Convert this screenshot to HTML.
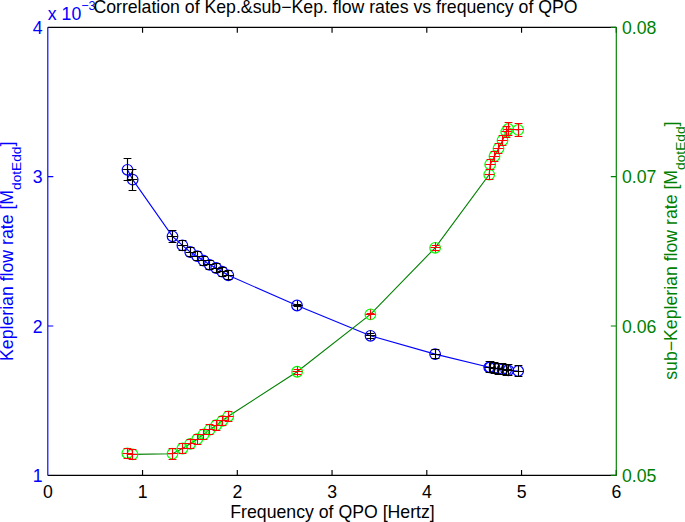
<!DOCTYPE html>
<html><head><meta charset="utf-8"><style>
html,body{margin:0;padding:0;background:#fff;}
svg{display:block;}
text{font-family:"Liberation Sans",sans-serif;font-size:17.7px;}
</style></head><body>
<svg width="685" height="522" viewBox="0 0 685 522">
<rect width="685" height="522" fill="#fff"/>
<polyline points="127.5,169.8 132.7,179.6 172.5,236.3 182.4,245.4 190.2,252 197.2,256.2 203.6,260.6 209.7,264.8 216.2,268 222.3,271.7 228.3,275.3 297,305.5 370.5,335.8 435.1,354.1 489.2,367.3 490.2,367.4 494.5,368 498.5,368.6 502.5,369.2 506.2,369.9 508.3,370.3 518.2,371" stroke="#0000ff" stroke-width="1.1" fill="none"/>
<circle cx="127.5" cy="169.8" r="5.3" stroke="#0000ff" stroke-width="1.2" fill="none"/>
<circle cx="132.7" cy="179.6" r="5.3" stroke="#0000ff" stroke-width="1.2" fill="none"/>
<circle cx="172.5" cy="236.3" r="5.3" stroke="#0000ff" stroke-width="1.2" fill="none"/>
<circle cx="182.4" cy="245.4" r="5.3" stroke="#0000ff" stroke-width="1.2" fill="none"/>
<circle cx="190.2" cy="252" r="5.3" stroke="#0000ff" stroke-width="1.2" fill="none"/>
<circle cx="197.2" cy="256.2" r="5.3" stroke="#0000ff" stroke-width="1.2" fill="none"/>
<circle cx="203.6" cy="260.6" r="5.3" stroke="#0000ff" stroke-width="1.2" fill="none"/>
<circle cx="209.7" cy="264.8" r="5.3" stroke="#0000ff" stroke-width="1.2" fill="none"/>
<circle cx="216.2" cy="268" r="5.3" stroke="#0000ff" stroke-width="1.2" fill="none"/>
<circle cx="222.3" cy="271.7" r="5.3" stroke="#0000ff" stroke-width="1.2" fill="none"/>
<circle cx="228.3" cy="275.3" r="5.3" stroke="#0000ff" stroke-width="1.2" fill="none"/>
<circle cx="297" cy="305.5" r="5.3" stroke="#0000ff" stroke-width="1.2" fill="none"/>
<circle cx="370.5" cy="335.8" r="5.3" stroke="#0000ff" stroke-width="1.2" fill="none"/>
<circle cx="435.1" cy="354.1" r="5.3" stroke="#0000ff" stroke-width="1.2" fill="none"/>
<circle cx="489.2" cy="367.3" r="5.3" stroke="#0000ff" stroke-width="1.2" fill="none"/>
<circle cx="490.2" cy="367.4" r="5.3" stroke="#0000ff" stroke-width="1.2" fill="none"/>
<circle cx="494.5" cy="368" r="5.3" stroke="#0000ff" stroke-width="1.2" fill="none"/>
<circle cx="498.5" cy="368.6" r="5.3" stroke="#0000ff" stroke-width="1.2" fill="none"/>
<circle cx="502.5" cy="369.2" r="5.3" stroke="#0000ff" stroke-width="1.2" fill="none"/>
<circle cx="506.2" cy="369.9" r="5.3" stroke="#0000ff" stroke-width="1.2" fill="none"/>
<circle cx="508.3" cy="370.3" r="5.3" stroke="#0000ff" stroke-width="1.2" fill="none"/>
<circle cx="518.2" cy="371" r="5.3" stroke="#0000ff" stroke-width="1.2" fill="none"/>
<path d="M127.5 158.5V180.5M123.6 158.5H131.4M123.6 180.5H131.4M122.5 169.5H132.5M132.5 169.5V190.5M128.6 169.5H136.4M128.6 190.5H136.4M127.5 179.5H137.5M172.5 230.5V242.5M168.6 230.5H176.4M168.6 242.5H176.4M167.5 236.5H177.5M182.5 240.5V250.5M178.6 240.5H186.4M178.6 250.5H186.4M177.5 245.5H187.5M190.5 247.5V257.5M186.6 247.5H194.4M186.6 256.5H194.4M185.5 252.5H195.5M197.5 251.5V261.5M193.6 251.5H201.4M193.6 260.5H201.4M192.5 256.5H202.5M203.5 255.5V265.5M199.6 256.5H207.4M199.6 265.5H207.4M198.5 260.5H208.5M209.5 259.5V269.5M205.6 260.5H213.4M205.6 269.5H213.4M204.5 264.5H214.5M216.5 263.5V273.5M212.6 263.5H220.4M212.6 272.5H220.4M211.5 268.5H221.5M222.5 266.5V276.5M218.6 267.5H226.4M218.6 276.5H226.4M217.5 271.5H227.5M228.5 270.5V280.5M224.6 270.5H232.4M224.6 279.5H232.4M223.5 275.5H233.5M297.5 300.5V310.5M293.6 304.5H301.4M293.6 306.5H301.4M292.5 305.5H302.5M370.5 330.5V340.5M366.6 333.5H374.4M366.6 338.5H374.4M365.5 335.5H375.5M435.5 349.5V359.5M431.6 349.5H439.4M431.6 358.5H439.4M430.5 354.5H440.5M489.5 361.5V372.5M485.6 361.5H493.4M485.6 372.5H493.4M484.5 367.5H494.5M490.5 361.5V372.5M486.6 361.5H494.4M486.6 372.5H494.4M485.5 367.5H495.5M494.5 362.5V373.5M490.6 362.5H498.4M490.6 373.5H498.4M489.5 368.5H499.5M498.5 363.5V374.5M494.6 363.5H502.4M494.6 374.5H502.4M493.5 368.5H503.5M502.5 363.5V374.5M498.6 363.5H506.4M498.6 374.5H506.4M497.5 369.5H507.5M506.5 364.5V375.5M502.6 364.5H510.4M502.6 375.5H510.4M501.5 369.5H511.5M508.5 364.5V375.5M504.6 364.5H512.4M504.6 375.5H512.4M503.5 370.5H513.5M518.5 365.5V376.5M514.6 365.5H522.4M514.6 376.5H522.4M513.5 371.5H523.5" stroke="#000" stroke-width="1.15" fill="none"/>
<polyline points="127.3,453.3 132.5,454.4 172.5,453.7 182.4,448.5 190.2,443.8 197.2,439.2 203.6,434.4 209.7,429.6 216.2,425.2 222.3,420.8 228.3,416.3 297.1,371.75 370.4,314.4 435.1,247.8 489.2,174.6 490.2,164.4 494.5,156.2 498.5,148.4 502.5,140.4 506.2,131.8 508.3,129 518.2,129.9" stroke="#008000" stroke-width="1.1" fill="none"/>
<circle cx="127.3" cy="453.3" r="5.3" stroke="#00ff00" stroke-width="1.2" fill="none"/>
<circle cx="132.5" cy="454.4" r="5.3" stroke="#00ff00" stroke-width="1.2" fill="none"/>
<circle cx="172.5" cy="453.7" r="5.3" stroke="#00ff00" stroke-width="1.2" fill="none"/>
<circle cx="182.4" cy="448.5" r="5.3" stroke="#00ff00" stroke-width="1.2" fill="none"/>
<circle cx="190.2" cy="443.8" r="5.3" stroke="#00ff00" stroke-width="1.2" fill="none"/>
<circle cx="197.2" cy="439.2" r="5.3" stroke="#00ff00" stroke-width="1.2" fill="none"/>
<circle cx="203.6" cy="434.4" r="5.3" stroke="#00ff00" stroke-width="1.2" fill="none"/>
<circle cx="209.7" cy="429.6" r="5.3" stroke="#00ff00" stroke-width="1.2" fill="none"/>
<circle cx="216.2" cy="425.2" r="5.3" stroke="#00ff00" stroke-width="1.2" fill="none"/>
<circle cx="222.3" cy="420.8" r="5.3" stroke="#00ff00" stroke-width="1.2" fill="none"/>
<circle cx="228.3" cy="416.3" r="5.3" stroke="#00ff00" stroke-width="1.2" fill="none"/>
<circle cx="297.1" cy="371.75" r="5.3" stroke="#00ff00" stroke-width="1.2" fill="none"/>
<circle cx="370.4" cy="314.4" r="5.3" stroke="#00ff00" stroke-width="1.2" fill="none"/>
<circle cx="435.1" cy="247.8" r="5.3" stroke="#00ff00" stroke-width="1.2" fill="none"/>
<circle cx="489.2" cy="174.6" r="5.3" stroke="#00ff00" stroke-width="1.2" fill="none"/>
<circle cx="490.2" cy="164.4" r="5.3" stroke="#00ff00" stroke-width="1.2" fill="none"/>
<circle cx="494.5" cy="156.2" r="5.3" stroke="#00ff00" stroke-width="1.2" fill="none"/>
<circle cx="498.5" cy="148.4" r="5.3" stroke="#00ff00" stroke-width="1.2" fill="none"/>
<circle cx="502.5" cy="140.4" r="5.3" stroke="#00ff00" stroke-width="1.2" fill="none"/>
<circle cx="506.2" cy="131.8" r="5.3" stroke="#00ff00" stroke-width="1.2" fill="none"/>
<circle cx="508.3" cy="129" r="5.3" stroke="#00ff00" stroke-width="1.2" fill="none"/>
<circle cx="518.2" cy="129.9" r="5.3" stroke="#00ff00" stroke-width="1.2" fill="none"/>
<path d="M127.5 448.5V458.5M123.6 448.5H131.4M123.6 458.5H131.4M122.5 453.5H132.5M132.5 449.5V459.5M128.6 449.5H136.4M128.6 459.5H136.4M127.5 454.5H137.5M172.5 448.5V459.5M168.6 448.5H176.4M168.6 459.5H176.4M167.5 453.5H177.5M182.5 443.5V453.5M178.6 443.5H186.4M178.6 453.5H186.4M177.5 448.5H187.5M190.5 438.5V448.5M186.6 439.5H194.4M186.6 448.5H194.4M185.5 443.5H195.5M197.5 434.5V444.5M193.6 434.5H201.4M193.6 444.5H201.4M192.5 439.5H202.5M203.5 429.5V439.5M199.6 429.5H207.4M199.6 439.5H207.4M198.5 434.5H208.5M209.5 424.5V434.5M205.6 424.5H213.4M205.6 434.5H213.4M204.5 429.5H214.5M216.5 420.5V430.5M212.6 420.5H220.4M212.6 430.5H220.4M211.5 425.5H221.5M222.5 415.5V425.5M218.6 416.5H226.4M218.6 425.5H226.4M217.5 420.5H227.5M228.5 411.5V421.5M224.6 411.5H232.4M224.6 421.5H232.4M223.5 416.5H233.5M297.5 366.5V376.5M293.6 369.5H301.4M293.6 374.5H301.4M292.5 371.5H302.5M370.5 309.5V319.5M366.6 313.5H374.4M366.6 314.5H374.4M365.5 314.5H375.5M435.5 242.5V252.5M431.6 245.5H439.4M431.6 250.5H439.4M430.5 247.5H440.5M489.5 169.5V179.5M485.6 169.5H493.4M485.6 179.5H493.4M484.5 174.5H494.5M490.5 159.5V169.5M486.6 159.5H494.4M486.6 169.5H494.4M485.5 164.5H495.5M494.5 151.5V161.5M490.6 151.5H498.4M490.6 161.5H498.4M489.5 156.5H499.5M498.5 143.5V153.5M494.6 143.5H502.4M494.6 153.5H502.4M493.5 148.5H503.5M502.5 135.5V145.5M498.6 135.5H506.4M498.6 145.5H506.4M497.5 140.5H507.5M506.5 126.5V137.5M502.6 126.5H510.4M502.6 137.5H510.4M501.5 131.5H511.5M508.5 122.5V135.5M504.6 122.5H512.4M504.6 135.5H512.4M503.5 129.5H513.5M518.5 123.5V136.5M514.6 123.5H522.4M514.6 136.5H522.4M513.5 129.5H523.5" stroke="#ff0000" stroke-width="1.15" fill="none"/>
<path d="M47.8 27.3H616.3M47.8 475.4H616.3" stroke="#000" stroke-width="1.15" fill="none"/>
<path d="M142.55 475.4V469.9M142.55 27.3V32.8M237.3 475.4V469.9M237.3 27.3V32.8M332.05 475.4V469.9M332.05 27.3V32.8M426.8 475.4V469.9M426.8 27.3V32.8M521.55 475.4V469.9M521.55 27.3V32.8M616.3 475.4V469.9M616.3 27.3V32.8" stroke="#000" stroke-width="1.15" fill="none"/>
<path d="M47.8 27.3V475.4M47.8 326.03H53.3M47.8 176.67H53.3" stroke="#0000ff" stroke-width="1.15" fill="none"/>
<path d="M616.3 27.3V475.4M616.3 475.4H610.8M616.3 326.03H610.8M616.3 176.67H610.8M616.3 27.3H610.8" stroke="#008000" stroke-width="1.15" fill="none"/>
<text x="47.8" y="497.8" text-anchor="middle">0</text>
<text x="142.55" y="497.8" text-anchor="middle">1</text>
<text x="237.3" y="497.8" text-anchor="middle">2</text>
<text x="332.05" y="497.8" text-anchor="middle">3</text>
<text x="426.8" y="497.8" text-anchor="middle">4</text>
<text x="521.55" y="497.8" text-anchor="middle">5</text>
<text x="616.3" y="497.8" text-anchor="middle">6</text>
<text x="42.7" y="482" text-anchor="end" fill="#0000ff">1</text>
<text x="42.7" y="332.63" text-anchor="end" fill="#0000ff">2</text>
<text x="42.7" y="183.27" text-anchor="end" fill="#0000ff">3</text>
<text x="42.7" y="33.9" text-anchor="end" fill="#0000ff">4</text>
<text x="622" y="482" fill="#008000">0.05</text>
<text x="622" y="332.63" fill="#008000">0.06</text>
<text x="622" y="183.27" fill="#008000">0.07</text>
<text x="622" y="33.9" fill="#008000">0.08</text>
<text x="47.8" y="19.6" fill="#0000ff">x 10<tspan font-size="12.6" dy="-9.6">−3</tspan></text>
<text x="93.4" y="13.4">Correlation of Kep.&amp;sub−Kep. flow rates vs frequency of QPO</text>
<text x="230.3" y="517.9">Frequency of QPO [Hertz]</text>
<text transform="translate(13.3,361) rotate(-90)" fill="#0000ff">Keplerian flow rate [M<tspan font-size="13.7" dy="7.8">dotEdd</tspan><tspan dy="-7.8">]</tspan></text>
<text transform="translate(676.8,379.8) rotate(-90)" fill="#008000">sub−Keplerian flow rate [M<tspan font-size="13.7" dy="7.8">dotEdd</tspan><tspan dy="-7.8">]</tspan></text>
</svg></body></html>
